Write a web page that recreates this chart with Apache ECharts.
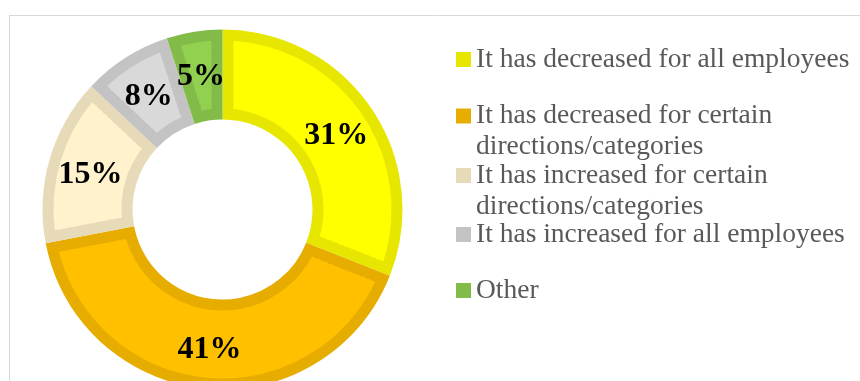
<!DOCTYPE html>
<html>
<head>
<meta charset="utf-8">
<script src="https://cdn.jsdelivr.net/npm/echarts@6/dist/echarts.min.js"></script>
<style>
  html, body { margin: 0; padding: 0; background: #ffffff; }
  #chart { width: 860px; height: 381px; }
</style>
</head>
<body>
<div id="chart"></div>
<script>
// Survey answers and their shares (percent)
const categories = [
  'It has decreased for all employees',
  'It has decreased for certain directions/categories',
  'It has increased for certain directions/categories',
  'It has increased for all employees',
  'Other'
];
const shares = [31, 41, 15, 8, 5];

// Legend text as it wraps on screen (a leading blank line keeps the
// marker beside the first line of two-line entries)
const legendText = [
  'It has decreased for all employees',
  '\nIt has decreased for certain\ndirections/categories',
  '\nIt has increased for certain\ndirections/categories',
  'It has increased for all employees',
  'Other'
];

// Slice fills and their darker outline tones
const fillColors = ['#FFFF00', '#FFC000', '#FFF2CC', '#D9D9D9', '#92D050'];
const edgeColors = ['#E6E600', '#E6AD00', '#E6DAB8', '#C3C3C3', '#83BB48'];

const CENTER = [222.5, 209.5];
const R_IN = 90, R_OUT = 180, EDGE = 11;
const SERIF = "'Liberation Serif', 'Times New Roman', serif";

const pieData = (colors) => categories.map((name, i) => ({
  name: name,
  value: shares[i],
  itemStyle: { color: colors[i] }
}));

const common = {
  type: 'pie',
  center: CENTER,
  startAngle: 90,
  clockwise: true,
  silent: true,
  avoidLabelOverlap: false,
  emphasis: { disabled: true },
  label: { show: false },
  labelLine: { show: false },
  animation: false
};

const series = [];

// Outline tone: the whole ring
series.push(Object.assign({}, common, {
  radius: [R_IN, R_OUT],
  data: pieData(edgeColors)
}));

// Lighter fill, inset by a constant edge width; the ring is built from
// thin bands so the pad angle can keep the side edges parallel
const BANDS = 10;
const inR = R_IN + EDGE, outR = R_OUT - EDGE;
for (let k = 0; k < BANDS; k++) {
  const r0 = inR + (outR - inR) * k / BANDS;
  const r1 = inR + (outR - inR) * (k + 1) / BANDS;
  const rm = (r0 + r1) / 2;
  series.push(Object.assign({}, common, {
    radius: [k === 0 ? r0 : r0 - 0.7, r1],
    padAngle: (2 * EDGE / rm) * 180 / Math.PI,
    data: pieData(fillColors)
  }));
}

// Percentage labels on top, carried by a thin invisible ring through
// the middle of the donut
series.push(Object.assign({}, common, {
  radius: [130, 139],
  data: pieData(categories.map(() => 'rgba(0,0,0,0)')),
  label: {
    show: true,
    position: 'inside',
    formatter: (p) => '{v|' + p.value + '%}',
    padding: [7, 0, 0, 0],
    rich: {
      v: {
        color: '#000000',
        fontFamily: SERIF,
        fontWeight: 'bold',
        fontSize: 32
      }
    }
  }
}));

// One legend block per entry so each can sit on its own row
const legendTops = [44, 69.5, 129, 219, 275];
const legends = categories.map((name, i) => ({
  data: [name],
  orient: 'vertical',
  left: 456,
  top: legendTops[i],
  padding: 0,
  icon: 'rect',
  itemWidth: 15,
  itemHeight: 15,
  selectedMode: false,
  formatter: () => legendText[i],
  textStyle: {
    color: '#595959',
    fontFamily: SERIF,
    fontSize: 27.5,
    lineHeight: 31
  }
}));

const chart = echarts.init(document.getElementById('chart'), null, { renderer: 'canvas' });
chart.setOption({
  backgroundColor: '#ffffff',
  animation: false,
  legend: legends,
  graphic: [
    { type: 'line', silent: true, shape: { x1: 9, y1: 15.5, x2: 860, y2: 15.5 },
      style: { stroke: '#D9D9D9', lineWidth: 1 } },
    { type: 'line', silent: true, shape: { x1: 9.5, y1: 15, x2: 9.5, y2: 381 },
      style: { stroke: '#D9D9D9', lineWidth: 1 } }
  ],
  series: series
});
</script>
</body>
</html>
